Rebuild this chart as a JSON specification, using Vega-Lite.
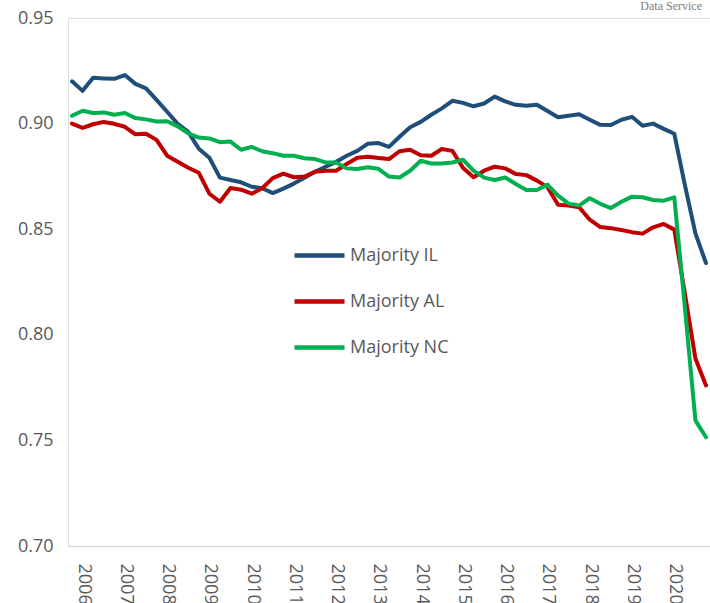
{
"$schema": "https://vega.github.io/schema/vega-lite/v6.json",
"autosize": {"type": "none"},
"padding": {"left": 68, "top": 18, "right": 0, "bottom": 57},
"width": 642,
"height": 528,
"background": "white",
"config": {
  "axisX": {"title": null, "labelAngle": 90, "labelAlign": "left", "labelBaseline": "middle",
            "labelOverlap": false, "ticks": false, "tickSize": 0, "labelPadding": 17, "labelOffset": 11,
            "labelFont": "Open Sans", "labelFontSize": 18, "labelColor": "#595959",
            "domainColor": "#d9d9d9", "domainWidth": 1.5, "grid": false},
  "axisY": {"title": null, "domain": false, "ticks": false, "grid": false, "labelPadding": 15,
            "labelFont": "Open Sans", "labelFontSize": 18, "labelColor": "#595959"}
},
"layer": [
{
"data": {"values": [
{"q":"2006Q1","s":"Majority IL","v":0.920},{"q":"2006Q2","s":"Majority IL","v":0.9155},{"q":"2006Q3","s":"Majority IL","v":0.9217},{"q":"2006Q4","s":"Majority IL","v":0.9214},
{"q":"2007Q1","s":"Majority IL","v":0.9212},{"q":"2007Q2","s":"Majority IL","v":0.923},{"q":"2007Q3","s":"Majority IL","v":0.9188},{"q":"2007Q4","s":"Majority IL","v":0.9167},
{"q":"2008Q1","s":"Majority IL","v":0.9112},{"q":"2008Q2","s":"Majority IL","v":0.9056},{"q":"2008Q3","s":"Majority IL","v":0.8999},{"q":"2008Q4","s":"Majority IL","v":0.8961},
{"q":"2009Q1","s":"Majority IL","v":0.8881},{"q":"2009Q2","s":"Majority IL","v":0.8838},{"q":"2009Q3","s":"Majority IL","v":0.8744},{"q":"2009Q4","s":"Majority IL","v":0.8733},
{"q":"2010Q1","s":"Majority IL","v":0.8722},{"q":"2010Q2","s":"Majority IL","v":0.8701},{"q":"2010Q3","s":"Majority IL","v":0.8694},{"q":"2010Q4","s":"Majority IL","v":0.8671},
{"q":"2011Q1","s":"Majority IL","v":0.8692},{"q":"2011Q2","s":"Majority IL","v":0.8716},{"q":"2011Q3","s":"Majority IL","v":0.8744},{"q":"2011Q4","s":"Majority IL","v":0.8772},
{"q":"2012Q1","s":"Majority IL","v":0.8796},{"q":"2012Q2","s":"Majority IL","v":0.8819},{"q":"2012Q3","s":"Majority IL","v":0.8848},{"q":"2012Q4","s":"Majority IL","v":0.8871},
{"q":"2013Q1","s":"Majority IL","v":0.8905},{"q":"2013Q2","s":"Majority IL","v":0.8908},{"q":"2013Q3","s":"Majority IL","v":0.8890},{"q":"2013Q4","s":"Majority IL","v":0.8938},
{"q":"2014Q1","s":"Majority IL","v":0.8983},{"q":"2014Q2","s":"Majority IL","v":0.9008},{"q":"2014Q3","s":"Majority IL","v":0.9042},{"q":"2014Q4","s":"Majority IL","v":0.9072},
{"q":"2015Q1","s":"Majority IL","v":0.9108},{"q":"2015Q2","s":"Majority IL","v":0.9098},{"q":"2015Q3","s":"Majority IL","v":0.9082},{"q":"2015Q4","s":"Majority IL","v":0.9095},
{"q":"2016Q1","s":"Majority IL","v":0.9128},{"q":"2016Q2","s":"Majority IL","v":0.9105},{"q":"2016Q3","s":"Majority IL","v":0.9089},{"q":"2016Q4","s":"Majority IL","v":0.9084},
{"q":"2017Q1","s":"Majority IL","v":0.9089},{"q":"2017Q2","s":"Majority IL","v":0.9060},{"q":"2017Q3","s":"Majority IL","v":0.9030},{"q":"2017Q4","s":"Majority IL","v":0.9037},
{"q":"2018Q1","s":"Majority IL","v":0.9044},{"q":"2018Q2","s":"Majority IL","v":0.9018},{"q":"2018Q3","s":"Majority IL","v":0.8994},{"q":"2018Q4","s":"Majority IL","v":0.8993},
{"q":"2019Q1","s":"Majority IL","v":0.9018},{"q":"2019Q2","s":"Majority IL","v":0.9032},{"q":"2019Q3","s":"Majority IL","v":0.8990},{"q":"2019Q4","s":"Majority IL","v":0.9000},
{"q":"2020Q1","s":"Majority IL","v":0.8975},{"q":"2020Q2","s":"Majority IL","v":0.8952},{"q":"2020Q3","s":"Majority IL","v":0.871},{"q":"2020Q4","s":"Majority IL","v":0.848},
{"q":"2021Q1","s":"Majority IL","v":0.834},
{"q":"2006Q1","s":"Majority AL","v":0.9000},{"q":"2006Q2","s":"Majority AL","v":0.8980},{"q":"2006Q3","s":"Majority AL","v":0.8997},{"q":"2006Q4","s":"Majority AL","v":0.9008},
{"q":"2007Q1","s":"Majority AL","v":0.8999},{"q":"2007Q2","s":"Majority AL","v":0.8985},{"q":"2007Q3","s":"Majority AL","v":0.8949},{"q":"2007Q4","s":"Majority AL","v":0.8952},
{"q":"2008Q1","s":"Majority AL","v":0.8923},{"q":"2008Q2","s":"Majority AL","v":0.8848},{"q":"2008Q3","s":"Majority AL","v":0.8819},{"q":"2008Q4","s":"Majority AL","v":0.8791},
{"q":"2009Q1","s":"Majority AL","v":0.8767},{"q":"2009Q2","s":"Majority AL","v":0.8668},{"q":"2009Q3","s":"Majority AL","v":0.8630},{"q":"2009Q4","s":"Majority AL","v":0.8695},
{"q":"2010Q1","s":"Majority AL","v":0.8687},{"q":"2010Q2","s":"Majority AL","v":0.8668},{"q":"2010Q3","s":"Majority AL","v":0.8694},{"q":"2010Q4","s":"Majority AL","v":0.8742},
{"q":"2011Q1","s":"Majority AL","v":0.8763},{"q":"2011Q2","s":"Majority AL","v":0.8746},{"q":"2011Q3","s":"Majority AL","v":0.8749},{"q":"2011Q4","s":"Majority AL","v":0.8772},
{"q":"2012Q1","s":"Majority AL","v":0.8777},{"q":"2012Q2","s":"Majority AL","v":0.8777},{"q":"2012Q3","s":"Majority AL","v":0.8809},{"q":"2012Q4","s":"Majority AL","v":0.8838},
{"q":"2013Q1","s":"Majority AL","v":0.8843},{"q":"2013Q2","s":"Majority AL","v":0.8837},{"q":"2013Q3","s":"Majority AL","v":0.8832},{"q":"2013Q4","s":"Majority AL","v":0.8869},
{"q":"2014Q1","s":"Majority AL","v":0.8876},{"q":"2014Q2","s":"Majority AL","v":0.8850},{"q":"2014Q3","s":"Majority AL","v":0.8848},{"q":"2014Q4","s":"Majority AL","v":0.8880},
{"q":"2015Q1","s":"Majority AL","v":0.8871},{"q":"2015Q2","s":"Majority AL","v":0.8791},{"q":"2015Q3","s":"Majority AL","v":0.8746},{"q":"2015Q4","s":"Majority AL","v":0.8777},
{"q":"2016Q1","s":"Majority AL","v":0.8796},{"q":"2016Q2","s":"Majority AL","v":0.8788},{"q":"2016Q3","s":"Majority AL","v":0.8761},{"q":"2016Q4","s":"Majority AL","v":0.8756},
{"q":"2017Q1","s":"Majority AL","v":0.8730},{"q":"2017Q2","s":"Majority AL","v":0.8699},{"q":"2017Q3","s":"Majority AL","v":0.8616},{"q":"2017Q4","s":"Majority AL","v":0.8612},
{"q":"2018Q1","s":"Majority AL","v":0.8604},{"q":"2018Q2","s":"Majority AL","v":0.8545},{"q":"2018Q3","s":"Majority AL","v":0.8510},{"q":"2018Q4","s":"Majority AL","v":0.8505},
{"q":"2019Q1","s":"Majority AL","v":0.8496},{"q":"2019Q2","s":"Majority AL","v":0.8486},{"q":"2019Q3","s":"Majority AL","v":0.8479},{"q":"2019Q4","s":"Majority AL","v":0.8509},
{"q":"2020Q1","s":"Majority AL","v":0.8525},{"q":"2020Q2","s":"Majority AL","v":0.8498},{"q":"2020Q3","s":"Majority AL","v":0.8196},{"q":"2020Q4","s":"Majority AL","v":0.7888},
{"q":"2021Q1","s":"Majority AL","v":0.7760},
{"q":"2006Q1","s":"Majority NC","v":0.9037},{"q":"2006Q2","s":"Majority NC","v":0.9061},{"q":"2006Q3","s":"Majority NC","v":0.9050},{"q":"2006Q4","s":"Majority NC","v":0.9053},
{"q":"2007Q1","s":"Majority NC","v":0.9042},{"q":"2007Q2","s":"Majority NC","v":0.9050},{"q":"2007Q3","s":"Majority NC","v":0.9026},{"q":"2007Q4","s":"Majority NC","v":0.9020},
{"q":"2008Q1","s":"Majority NC","v":0.9010},{"q":"2008Q2","s":"Majority NC","v":0.9011},{"q":"2008Q3","s":"Majority NC","v":0.8987},{"q":"2008Q4","s":"Majority NC","v":0.8954},
{"q":"2009Q1","s":"Majority NC","v":0.8934},{"q":"2009Q2","s":"Majority NC","v":0.8930},{"q":"2009Q3","s":"Majority NC","v":0.8912},{"q":"2009Q4","s":"Majority NC","v":0.8915},
{"q":"2010Q1","s":"Majority NC","v":0.8876},{"q":"2010Q2","s":"Majority NC","v":0.8890},{"q":"2010Q3","s":"Majority NC","v":0.8869},{"q":"2010Q4","s":"Majority NC","v":0.8860},
{"q":"2011Q1","s":"Majority NC","v":0.8848},{"q":"2011Q2","s":"Majority NC","v":0.8848},{"q":"2011Q3","s":"Majority NC","v":0.8836},{"q":"2011Q4","s":"Majority NC","v":0.8832},
{"q":"2012Q1","s":"Majority NC","v":0.8816},{"q":"2012Q2","s":"Majority NC","v":0.8816},{"q":"2012Q3","s":"Majority NC","v":0.8788},{"q":"2012Q4","s":"Majority NC","v":0.8785},
{"q":"2013Q1","s":"Majority NC","v":0.8793},{"q":"2013Q2","s":"Majority NC","v":0.8786},{"q":"2013Q3","s":"Majority NC","v":0.8749},{"q":"2013Q4","s":"Majority NC","v":0.8745},
{"q":"2014Q1","s":"Majority NC","v":0.8777},{"q":"2014Q2","s":"Majority NC","v":0.8824},{"q":"2014Q3","s":"Majority NC","v":0.8811},{"q":"2014Q4","s":"Majority NC","v":0.8811},
{"q":"2015Q1","s":"Majority NC","v":0.8816},{"q":"2015Q2","s":"Majority NC","v":0.8829},{"q":"2015Q3","s":"Majority NC","v":0.8777},{"q":"2015Q4","s":"Majority NC","v":0.8744},
{"q":"2016Q1","s":"Majority NC","v":0.8733},{"q":"2016Q2","s":"Majority NC","v":0.8745},{"q":"2016Q3","s":"Majority NC","v":0.8714},{"q":"2016Q4","s":"Majority NC","v":0.8686},
{"q":"2017Q1","s":"Majority NC","v":0.8686},{"q":"2017Q2","s":"Majority NC","v":0.8711},{"q":"2017Q3","s":"Majority NC","v":0.8659},{"q":"2017Q4","s":"Majority NC","v":0.8621},
{"q":"2018Q1","s":"Majority NC","v":0.8612},{"q":"2018Q2","s":"Majority NC","v":0.8647},{"q":"2018Q3","s":"Majority NC","v":0.8620},{"q":"2018Q4","s":"Majority NC","v":0.8600},
{"q":"2019Q1","s":"Majority NC","v":0.8630},{"q":"2019Q2","s":"Majority NC","v":0.8654},{"q":"2019Q3","s":"Majority NC","v":0.8651},{"q":"2019Q4","s":"Majority NC","v":0.8638},
{"q":"2020Q1","s":"Majority NC","v":0.8635},{"q":"2020Q2","s":"Majority NC","v":0.8651},{"q":"2020Q3","s":"Majority NC","v":0.8130},{"q":"2020Q4","s":"Majority NC","v":0.7595},
{"q":"2021Q1","s":"Majority NC","v":0.7515}
]},
"mark": {"type": "line", "strokeWidth": 4, "strokeJoin": "round", "strokeCap": "round"},
"encoding": {
  "x": {"field": "q", "type": "ordinal", "scale": {"type": "point", "padding": 0.38},
        "axis": {"labelExpr": "substring(datum.value,4,6)=='Q1' ? substring(datum.value,0,4) : ''"}},
  "y": {"field": "v", "type": "quantitative", "scale": {"domain": [0.70, 0.95], "nice": false, "zero": false},
        "axis": {"values": [0.70, 0.75, 0.80, 0.85, 0.90, 0.95], "format": ".2f"}},
  "color": {"field": "s", "type": "nominal", "sort": ["Majority IL", "Majority AL", "Majority NC"],
            "scale": {"domain": ["Majority IL", "Majority AL", "Majority NC"], "range": ["#1f4e79", "#c00000", "#00b050"]},
            "legend": {"title": null, "orient": "none", "legendX": 224, "legendY": 210,
                       "symbolType": "stroke", "symbolSize": 2500, "symbolStrokeWidth": 4.5,
                       "labelFont": "Open Sans", "labelFontSize": 18, "labelColor": "#595959",
                       "labelOffset": 3, "rowPadding": 9}}
}
},
{
"data": {"values": [{"t": "Data Service", "q": "2021Q1", "v": 0.9538}]},
"mark": {"type": "text", "align": "right", "baseline": "alphabetic", "dx": -4, "font": "Liberation Serif", "fontSize": 12, "color": "#808080", "clip": false},
"encoding": {
  "x": {"field": "q", "type": "ordinal"},
  "y": {"field": "v", "type": "quantitative"},
  "text": {"field": "t"}
}
}
]
}
